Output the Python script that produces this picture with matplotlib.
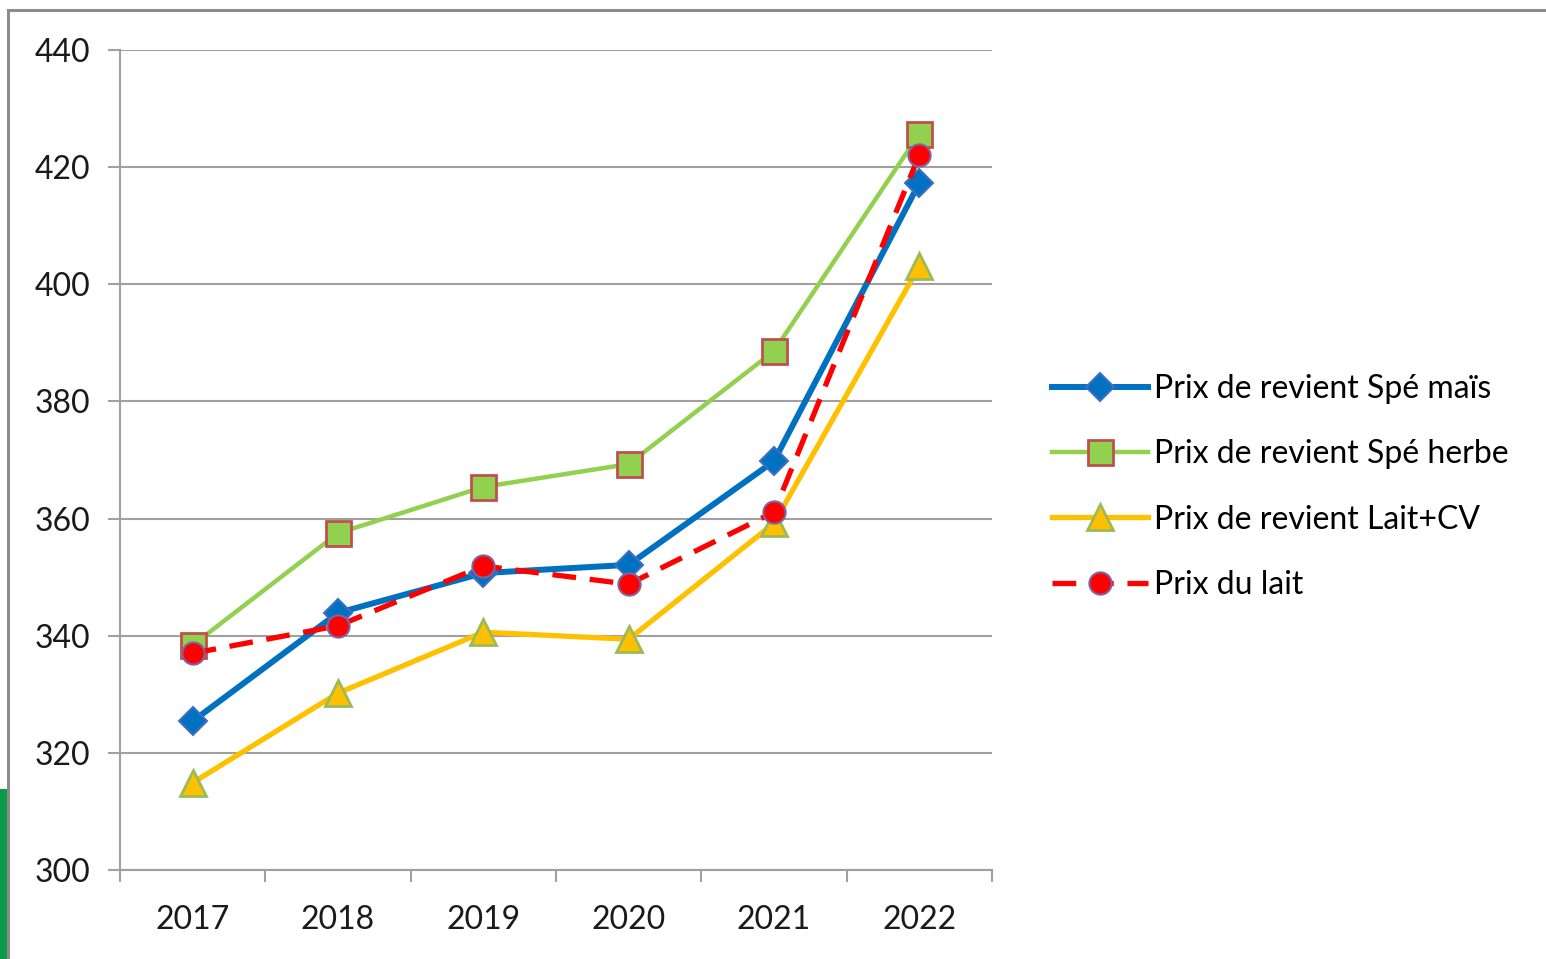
import matplotlib.pyplot as plt
import matplotlib.lines as mlines
import matplotlib.patches as mpatches
import numpy as np

years = ["2017", "2018", "2019", "2020", "2021", "2022"]
spe_mais = [325.4, 343.9, 350.7, 352.1, 369.8, 417.3]
spe_herbe = [338.4, 357.5, 365.4, 369.3, 388.6, 425.7]
lait_cv = [314.9, 330.2, 340.6, 339.4, 359.2, 403.1]
prix_lait = [337.0, 341.7, 351.9, 348.8, 361.1, 422.1]
yticks = [300, 320, 340, 360, 380, 400, 420, 440]

plt.rcParams['font.family'] = ['Lato', 'DejaVu Sans']

fig = plt.figure(figsize=(15.46, 9.59), dpi=100)
ax = fig.add_axes([120 / 1546, 89 / 959, 872 / 1546, 820 / 959])

x = np.arange(len(years))
ax.plot(x, spe_mais, color="#0070C0", lw=4.3, marker="D", ms=14,
        mfc="#0070C0", mec="#3F6FBF", mew=1.5, label="Prix de revient Spé maïs", zorder=3)
ax.plot(x, spe_herbe, color="#92D050", lw=3.2, marker="s", ms=18,
        mfc="#92D050", mec="#C0504D", mew=2, label="Prix de revient Spé herbe", zorder=4)
ax.plot(x, lait_cv, color="#FFC000", lw=3.8, marker="^", ms=19,
        mfc="#FFC000", mec="#9BBB59", mew=2, label="Prix de revient Lait+CV", zorder=5)
ax.plot(x, prix_lait, color="#FF0000", lw=3.8, ls=(0, (4.5, 2.6)), marker="o", ms=16,
        mfc="#FF0000", mec="#8064A2", mew=1.5, label="Prix du lait", zorder=6)

ax.set_xlim(-0.5, len(years) - 0.5)
ax.set_ylim(300, 440)
ax.set_yticks(yticks)
ax.set_xticks(x)
ax.set_xticklabels(years)
ax.set_xticks(np.arange(-0.5, len(years)), minor=True)
ax.grid(axis="y", color="#A0A0A0", lw=1.5)
ax.set_axisbelow(True)

for s in ["top", "right"]:
    ax.spines[s].set_visible(False)
for s in ["left", "bottom"]:
    ax.spines[s].set_color("#A0A0A0")
    ax.spines[s].set_linewidth(1.5)

ax.tick_params(axis="y", length=8.6, width=1.5, color="#A0A0A0", pad=13,
               labelsize=23, labelcolor="#1a1a1a")
ax.tick_params(axis="x", which="major", length=0, pad=25, labelsize=23, labelcolor="#1a1a1a")
ax.tick_params(axis="x", which="minor", length=8.6, width=1.5, color="#A0A0A0")

ax.legend(loc="center left", bbox_to_anchor=(1036 / 1546, 1 - 487 / 959),
          bbox_transform=fig.transFigure, frameon=False, fontsize=23,
          handlelength=3.0, handletextpad=0.2, labelspacing=1.1, borderpad=0)

# screenshot frame
fig.add_artist(mlines.Line2D([8 / 1546, 8 / 1546], [0, 1 - 10 / 959], color="#8C8C8C", lw=2.2))
fig.add_artist(mlines.Line2D([8 / 1546, 1], [1 - 10 / 959, 1 - 10 / 959], color="#8C8C8C", lw=2.2))
fig.add_artist(mpatches.Rectangle((0, 0), 7 / 1546, 170 / 959, color="#0A9A48", lw=0))

fig.savefig("out.png", dpi=100)
